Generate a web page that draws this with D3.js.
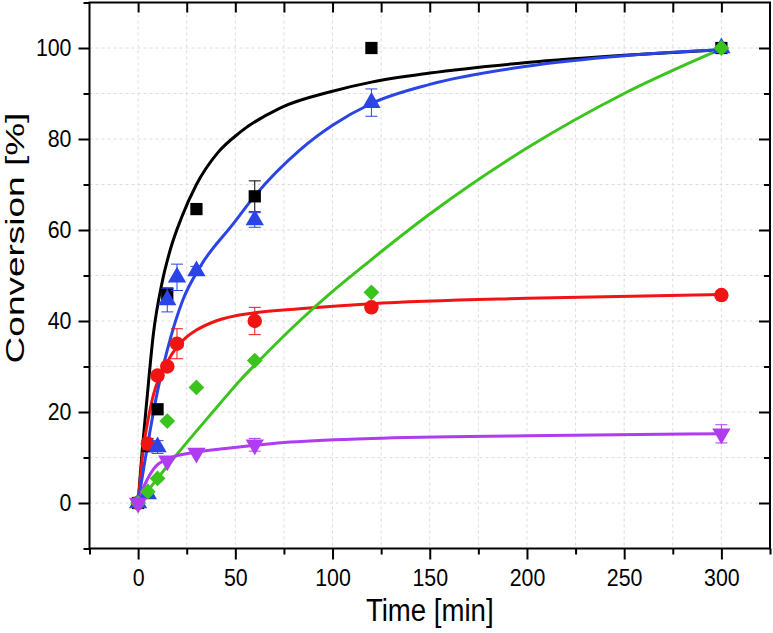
<!DOCTYPE html>
<html><head><meta charset="utf-8">
<script src="https://cdn.jsdelivr.net/npm/d3@7"></script>
<style>body{margin:0;background:#fff}svg{display:block;font-family:Arial,"Liberation Sans",sans-serif}</style>
</head><body>
<svg id="c" width="773" height="633"></svg>
<script>
// ---- data ----
const xTicks = [0, 50, 100, 150, 200, 250, 300];
const yTicks = [0, 20, 40, 60, 80, 100];

const blackX = [0, 5, 10, 15, 30, 60, 120, 300];
const blackY = [0, 12.5, 20.6, 46, 64.6, 67.4, 100, 100];
const blackE = [0, 0, 0, 1.2, 0, 3.4, 0, 0];

const redX = [0, 5, 10, 15, 20, 60, 120, 300];
const redY = [0, 13, 28, 30, 35, 40, 43, 45.7];
const redE = [0, 1.2, 0.8, 0.8, 3.3, 3, 0, 0];

const blueX = [0, 5, 10, 15, 20, 30, 60, 120, 300];
const blueY = [0, 2, 12.3, 44.6, 49.6, 51, 62.2, 88, 100];
const blueE = [0, 0, 1.4, 2.6, 2.9, 1, 1.6, 3, 0];

const greenX = [0, 5, 10, 15, 30, 60, 120, 300];
const greenY = [0, 2.5, 5.4, 18, 25.4, 31.3, 46.3, 100];

const purpleX = [0, 15, 30, 60, 300];
const purpleY = [0, 9.3, 11, 12.8, 15.2];
const purpleE = [0, 0, 0, 1.4, 2];

// fitted curves
const blackFitX = [0, 2, 4.5, 7.9, 12.2, 16.5, 22.5, 30, 41, 52.5, 73, 100, 120, 150, 200, 250, 300];
const blackFitY = [0, 11, 22.6, 37.3, 48.2, 55.6, 62.9, 70, 77, 81.5, 86.8, 90.5, 92.5, 94.5, 96.8, 98.4, 99.6];
const redFitX = [0, 3, 5, 8, 12, 15, 20, 25, 30, 40, 60, 83, 120, 200, 300];
const redFitY = [0, 13, 18, 24, 28.5, 31, 34.3, 36.5, 38, 40, 41.8, 42.7, 43.8, 45, 45.8];
const blueFitX = [0, 3, 6, 9, 15, 23, 32, 49, 60, 83, 100, 120, 150, 200, 250, 300];
const blueFitY = [0, 8, 15.5, 22.5, 33.6, 44.6, 52, 61.4, 67.5, 77.5, 83, 87.8, 92, 96, 98.3, 99.6];
const greenFitX = [0, 10, 20, 30, 42, 52.5, 60, 83, 100, 120, 150, 200, 250, 300];
const greenFitY = [0, 5.4, 10.7, 15.8, 21.8, 27, 30.3, 40, 46.5, 53.5, 63.5, 78, 90, 99.8];
const purpleFitX = [0, 2, 4.5, 8, 15, 20, 30, 45, 60, 75, 120, 200, 300];
const purpleFitY = [0, 2.6, 5, 7.5, 9.7, 10.4, 11.2, 12, 12.7, 13.3, 14.2, 14.8, 15.2];

const colors = {black: "#000000", red: "#f21414", blue: "#2a44e6", green: "#3cc41e", purple: "#b03cf0"};

// ---- layout ----
const svg = d3.select("#c");
const L = 89.5, R = 770, T = 2.5, B = 548.5;
const SX = 0.89; // horizontal squeeze of the lettering
const x = d3.scaleLinear().domain([-25, 325]).range([L, R]);
const y = d3.scaleLinear().domain([-10, 110]).range([B, T]);

// grid
const gx = d3.range(-25, 326, 25).filter(v => v > -25 && v < 325);
const gy = d3.range(-10, 111, 10).filter(v => v > -10 && v < 110);
const grid = svg.append("g").attr("stroke", "#dcdcdc").attr("stroke-width", 1).attr("stroke-dasharray", "3,3");
grid.selectAll("line.v").data(gx).join("line").attr("x1", d => x(d)).attr("x2", d => x(d)).attr("y1", T).attr("y2", B);
grid.selectAll("line.h").data(gy).join("line").attr("y1", d => y(d)).attr("y2", d => y(d)).attr("x1", L).attr("x2", R);

// axes
const fs = 24;
const xAx = d3.axisBottom(x).tickValues(xTicks).tickSize(11).tickPadding(9).tickFormat(d3.format("d"));
svg.append("g").attr("class", "xa").attr("transform", `translate(0,${B})`).call(xAx);
const xMinor = d3.axisBottom(x).tickValues([-25, 25, 75, 125, 175, 225, 275, 325]).tickSize(6).tickFormat("");
svg.append("g").attr("transform", `translate(0,${B})`).call(xMinor);
const yAx = d3.axisLeft(y).tickValues(yTicks).tickSize(11).tickPadding(7).tickFormat(d3.format("d"));
svg.append("g").attr("class", "ya").attr("transform", `translate(${L},0)`).call(yAx);
const yMinor = d3.axisLeft(y).tickValues([-10, 10, 30, 50, 70, 90, 110]).tickSize(6).tickFormat("");
svg.append("g").attr("transform", `translate(${L},0)`).call(yMinor);
// top (inward)
const xTop = d3.axisTop(x).tickValues([0, 25, 50, 75, 100, 125, 150, 175, 200, 225, 250, 275, 300]).tickSize(-10).tickFormat("");
svg.append("g").attr("transform", `translate(0,${T})`).call(xTop);
// right (inward)
const yRight = d3.axisRight(y).tickValues(yTicks).tickSize(-11).tickFormat("");
svg.append("g").attr("transform", `translate(${R},0)`).call(yRight);
const yRightMinor = d3.axisRight(y).tickValues([10, 30, 50, 70, 90]).tickSize(-6).tickFormat("");
svg.append("g").attr("transform", `translate(${R},0)`).call(yRightMinor);

svg.selectAll(".domain").remove();
svg.selectAll(".tick line").attr("stroke", "#000").attr("stroke-width", 2);
svg.selectAll(".tick text").attr("font-size", fs).attr("fill", "#000").attr("font-family", "Arial, Liberation Sans, sans-serif");
svg.selectAll(".xa .tick text").attr("transform", `scale(${SX},1)`);
svg.selectAll(".ya .tick text").attr("x", -18 / SX).attr("transform", `scale(${SX},1)`);

svg.append("rect").attr("x", L).attr("y", T).attr("width", R - L).attr("height", B - T)
  .attr("fill", "none").attr("stroke", "#000").attr("stroke-width", 2);

// axis titles
svg.append("text").attr("transform", `translate(${(L + R) / 2},621) scale(${SX},1)`).attr("text-anchor", "middle")
  .attr("font-size", 31).text("Time [min]");
svg.append("text").attr("transform", `translate(24,238) scale(0.7,1) rotate(-90)`).attr("text-anchor", "middle")
  .attr("font-size", 37).text("Conversion [%]");

// curves
const plot = svg.append("g");
const line = d3.line().x(d => x(d[0])).y(d => y(d[1])).curve(d3.curveMonotoneX);
const fits = [
  [blackFitX, blackFitY, colors.black],
  [redFitX, redFitY, colors.red],
  [blueFitX, blueFitY, colors.blue],
  [greenFitX, greenFitY, colors.green],
  [purpleFitX, purpleFitY, colors.purple]
];
fits.forEach(([fx, fy, c]) => {
  plot.append("path").datum(fx.map((v, i) => [v, fy[i]])).attr("d", line)
    .attr("fill", "none").attr("stroke", c).attr("stroke-width", 3);
});

// points
function drawSeries(xs, ys, es, color, sym, size, rot) {
  const g = plot.append("g");
  const pts = xs.map((v, i) => ({x: v, y: ys[i], e: es ? es[i] : 0}));
  const eb = g.append("g").attr("stroke", color).attr("stroke-width", 1);
  pts.filter(p => p.e > 0).forEach(p => {
    const cx = x(p.x), y1 = y(p.y + p.e), y2 = y(p.y - p.e);
    eb.append("line").attr("x1", cx).attr("x2", cx).attr("y1", y1).attr("y2", y2);
    eb.append("line").attr("x1", cx - 6).attr("x2", cx + 6).attr("y1", y1).attr("y2", y1);
    eb.append("line").attr("x1", cx - 6).attr("x2", cx + 6).attr("y1", y2).attr("y2", y2);
  });
  g.selectAll("path.m").data(pts).join("path")
    .attr("d", d3.symbol().type(sym).size(size))
    .attr("transform", d => `translate(${x(d.x)},${y(d.y)}) rotate(${rot})`)
    .attr("fill", color);
}
drawSeries(blackX, blackY, blackE, colors.black, d3.symbolSquare, 150, 0);
drawSeries(redX, redY, redE, colors.red, d3.symbolCircle, 165, 0);
drawSeries(blueX, blueY, blueE, colors.blue, d3.symbolTriangle, 145, 0);
drawSeries(greenX, greenY, null, colors.green, d3.symbolSquare, 125, 45);
drawSeries(purpleX, purpleY, purpleE, colors.purple, d3.symbolTriangle, 145, 180);
</script>
</body></html>
